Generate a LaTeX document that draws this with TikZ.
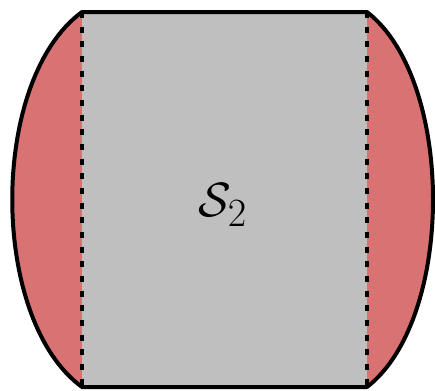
\documentclass[tikz,border=0pt]{standalone}
\usepackage{tikz}
\definecolor{capRed}{HTML}{D97373}
\definecolor{bodyGray}{HTML}{BFBFBF}

\begin{document}
\begin{tikzpicture}[x=0.75pt, y=-0.75pt]
  \useasboundingbox (0,0) rectangle (435,390);
  \coordinate (tl) at (82,12);
  \coordinate (bl) at (82,387);
  \coordinate (tr) at (367,12);
  \coordinate (br) at (367,387);

  % Left cap
  \fill[capRed] (tl) .. controls (-11,80) and (-11,319) .. (bl) -- cycle;
  % Right cap
  \fill[capRed] (tr) .. controls (455,80) and (455,319) .. (br) -- cycle;
  % Middle
  \fill[bodyGray] (tl) rectangle (br);

  % Seams
  \draw[line width=3pt, dash pattern=on 4.5pt off 6.5pt] (tl) -- (bl);
  \draw[line width=3pt, dash pattern=on 4.5pt off 6.5pt] (tr) -- (br);

  % Outline
  \draw[line width=3pt, line join=round] (tl) -- (tr)
    .. controls (455,80) and (455,319) .. (br) -- (bl)
    .. controls (-11,319) and (-11,80) .. (tl) -- cycle;

  \node[font=\Huge, scale=1.45] (label) at (223,205) {$\mathcal{S}_2$};
\end{tikzpicture}
\end{document}
